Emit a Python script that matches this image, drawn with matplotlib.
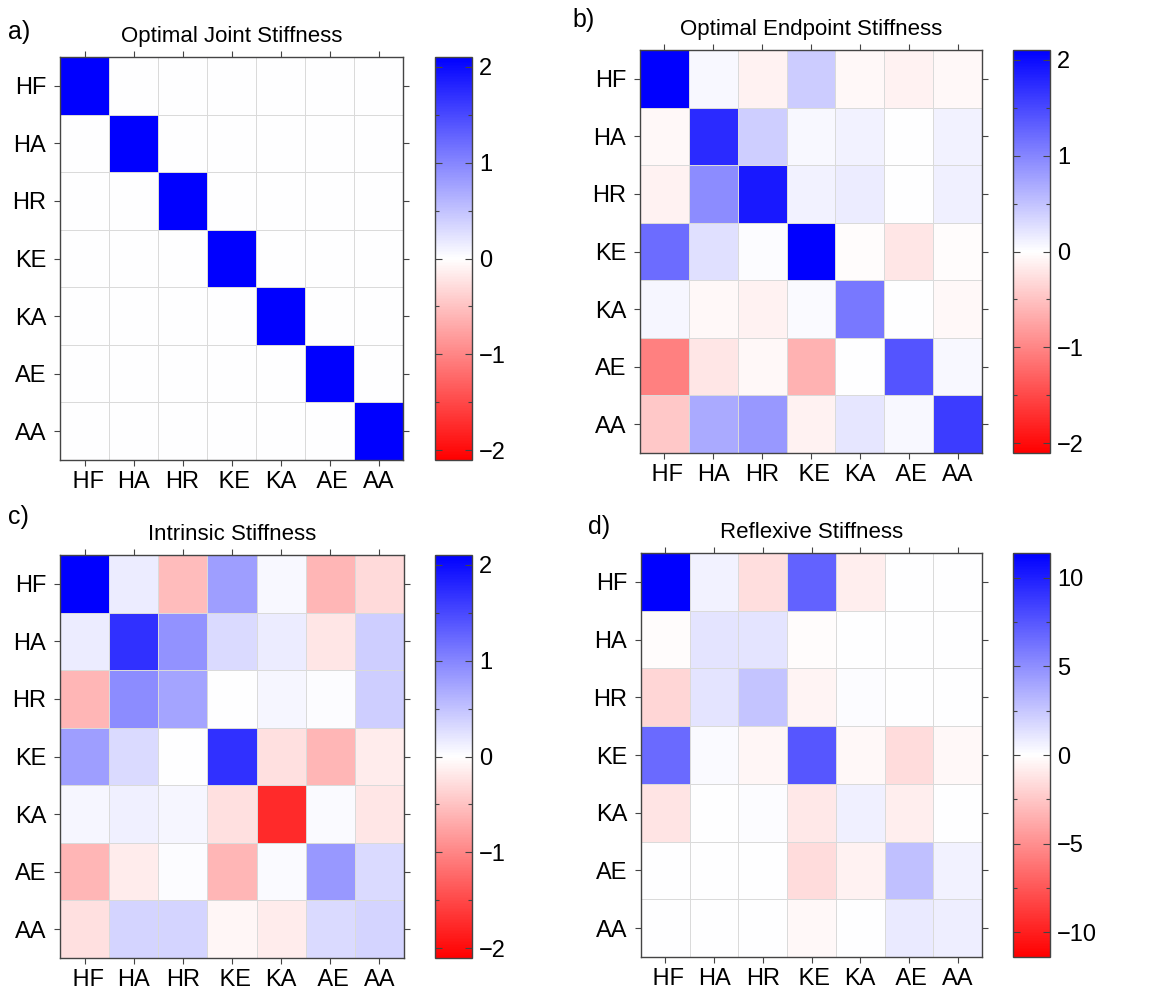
import numpy as np
import matplotlib.pyplot as plt
from matplotlib.ticker import MultipleLocator

plt.rcParams['font.family'] = ['Liberation Sans', 'DejaVu Sans']

joints = ['HF', 'HA', 'HR', 'KE', 'KA', 'AE', 'AA']
xlabels = [' HF', 'HA', 'HR', ' KE', 'KA', ' AE', 'AA']

# a) optimal joint stiffness (diagonal)
K_joint = np.diag([2.1, 2.1, 2.1, 2.1, 2.1, 2.1, 2.1])

# b) optimal endpoint stiffness
K_endpoint = np.array([
    [2.10, 0.05, -0.10, 0.42, -0.05, -0.10, -0.05],
    [-0.05, 1.75, 0.40, 0.05, 0.10, 0.00, 0.10],
    [-0.10, 0.95, 1.90, 0.10, 0.15, 0.00, 0.12],
    [1.20, 0.25, 0.02, 2.10, -0.02, -0.20, -0.02],
    [0.07, -0.05, -0.10, 0.04, 1.10, 0.00, -0.05],
    [-1.05, -0.20, -0.05, -0.63, 0.00, 1.40, 0.05],
    [-0.45, 0.70, 0.85, -0.10, 0.20, 0.05, 1.60],
])

# c) intrinsic stiffness
K_intrinsic = np.array([
    [2.10, 0.15, -0.55, 0.80, 0.05, -0.60, -0.30],
    [0.15, 1.70, 0.90, 0.30, 0.15, -0.20, 0.40],
    [-0.60, 0.95, 0.75, 0.00, 0.08, 0.02, 0.40],
    [0.80, 0.30, 0.00, 1.70, -0.25, -0.60, -0.15],
    [0.08, 0.12, 0.08, -0.25, -1.75, 0.04, -0.20],
    [-0.60, -0.15, 0.02, -0.60, 0.04, 0.85, 0.30],
    [-0.25, 0.35, 0.35, -0.08, -0.15, 0.30, 0.35],
])

# d) reflexive stiffness
K_reflex = np.array([
    [11.4, 0.6, -1.5, 7.0, -0.8, 0.0, 0.0],
    [-0.1, 1.2, 1.2, -0.1, 0.0, 0.0, 0.0],
    [-1.8, 1.2, 2.6, -0.5, 0.1, 0.0, 0.0],
    [6.6, 0.2, -0.4, 7.5, -0.3, -1.6, -0.3],
    [-1.2, 0.0, 0.1, -1.0, 0.7, -0.8, 0.0],
    [0.0, 0.0, 0.0, -1.6, -0.6, 2.8, 0.6],
    [0.0, 0.0, 0.0, -0.3, 0.0, 0.9, 0.8],
])

panels = [
    ('a)', 'Optimal Joint Stiffness', K_joint, 2.1, 1, 0.5),
    ('b)', 'Optimal Endpoint Stiffness', K_endpoint, 2.1, 1, 0.5),
    ('c)', 'Intrinsic Stiffness', K_intrinsic, 2.1, 1, 0.5),
    ('d)', 'Reflexive Stiffness', K_reflex, 11.4, 5, 2.5),
]

W, H = 1173, 993
# pixel boxes: heatmap (x0, y0, x1, y1), colorbar x0, panel label pos
boxes = [
    ((60, 57, 403, 460), 435, (8, 32)),
    ((640, 50, 982, 453), 1013, (572, 20)),
    ((60, 555, 404, 958), 435, (8, 517)),
    ((641, 553, 982, 957), 1013, (588, 527)),
]

def frac(x0, y0, x1, y1):
    return [x0 / W, 1 - y1 / H, (x1 - x0) / W, (y1 - y0) / H]

fig = plt.figure(figsize=(W / 100, H / 100), dpi=100)

for (lab, title, M, vmax, major, minor), (box, cbx, lpos) in zip(panels, boxes):
    x0, y0, x1, y1 = box
    ax = fig.add_axes(frac(*box))
    mesh = ax.pcolormesh(M, cmap='bwr_r', vmin=-vmax, vmax=vmax,
                         edgecolors='#dadada', linewidth=0.5)
    ax.set_xlim(0, 7)
    ax.set_ylim(7, 0)
    ax.set_xticks(np.arange(7) + 0.5)
    ax.set_yticks(np.arange(7) + 0.5)
    ax.set_xticklabels(xlabels, fontsize=17)
    ax.set_yticklabels(joints, fontsize=17)
    ax.tick_params(top=True, right=True, labeltop=False, labelright=False,
                   direction='out', length=4, width=0.8, color='#444444')
    ax.tick_params(axis='y', pad=6)
    ax.tick_params(axis='x', pad=4)
    for s in ax.spines.values():
        s.set_color('#444444')
        s.set_linewidth(1.0)
    ax.set_title(title, fontsize=16, pad=11)
    fig.text(lpos[0] / W, 1 - lpos[1] / H, lab, fontsize=18, va='center', ha='left')

    cax = fig.add_axes(frac(cbx, y0, cbx + 37, y1))
    cb = fig.colorbar(mesh, cax=cax, ticks=np.arange(-2 * major, 2 * major + 1, major))
    cb.ax.yaxis.set_minor_locator(MultipleLocator(minor))
    cb.ax.tick_params(which='both', direction='in', left=True, right=True,
                      color='#444444', width=0.8)
    cb.ax.tick_params(which='major', length=5, labelsize=17, pad=5)
    cb.ax.tick_params(which='minor', length=3)
    cb.outline.set_edgecolor('#444444')
    cb.outline.set_linewidth(1.0)

fig.savefig('out.png', dpi=100)
